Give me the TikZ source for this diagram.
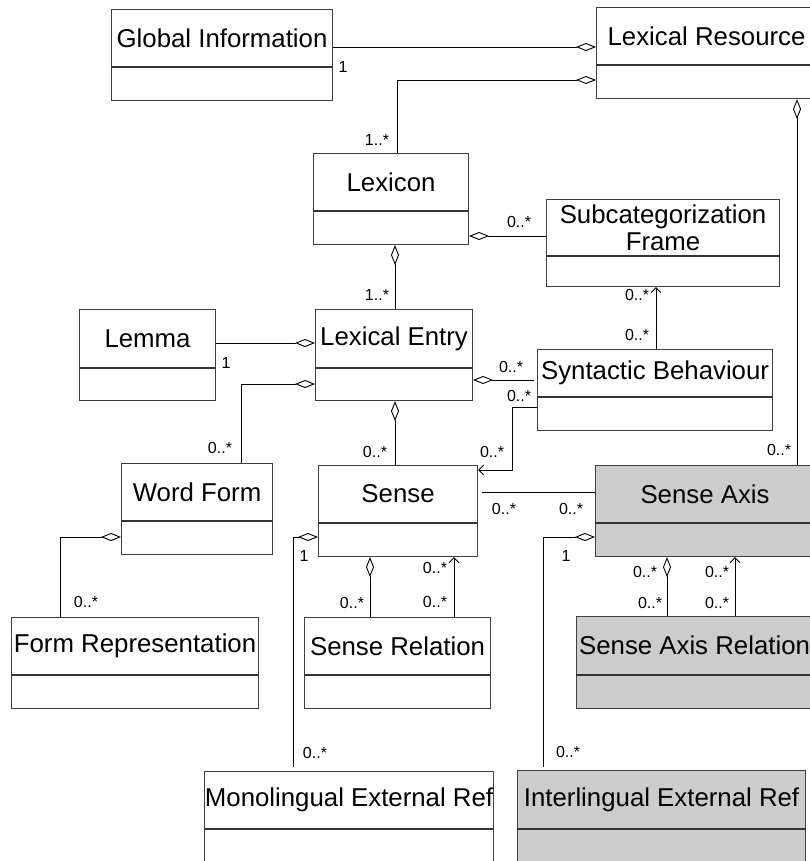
\documentclass[tikz,border=0pt]{standalone}
\usepackage{fontspec}
\setmainfont{Liberation Sans}
\usetikzlibrary{arrows.meta,calc}
\definecolor{boxgray}{HTML}{CCCCCC}
\tikzset{
  classbox/.style={draw=black!75, line width=1.1pt, inner sep=0pt, rectangle},
  classline/.style={draw=black!80, line width=1.1pt},
  classtitle/.style={font=\fontsize{25.8}{27}\selectfont, align=center, inner sep=0pt},
  mult/.style={font=\fontsize{16}{16}\selectfont, inner sep=0pt},
  assoc/.style={draw=black, line width=0.9pt},
  agg/.style={assoc, {Diamond[open, length=20pt, width=8pt, line width=0.9pt]}-},
  aggend/.style={assoc, -{Diamond[open, length=20pt, width=8pt, line width=0.9pt]}},
  nav/.style={assoc, -{Straight Barb[length=5pt, width=10pt, line width=0.9pt]}}
}
\newcommand{\umlclass}[8]{%
  \pgfmathsetmacro{\clsw}{#4-#2}%
  \pgfmathsetmacro{\clsh}{#6-#3}%
  \node[classbox, fill=#7, minimum width=\clsw pt, minimum height=\clsh pt, anchor=north west] (#1) at (#2,#3) {};
  \draw[classline] (#1.west |- 0,#5) -- (#1.east |- 0,#5);
  \node[classtitle] (#1-title) at ($(#1.north)!0.5!(#1.north |- 0,#5)$) {#8};
}
\begin{document}
\begin{tikzpicture}[x=1pt, y=-1pt]
\useasboundingbox (0,0) rectangle (810,861);
\clip (0,0) rectangle (810,861);
\fill[white] (0,0) rectangle (810,861);

% classes
\umlclass{gi}{111}{9}{332}{67}{100}{white}{Global Information}
\umlclass{lr}{596}{7}{816}{65}{98}{white}{Lexical Resource}
\umlclass{lex}{313}{153}{468}{211}{244}{white}{Lexicon}
\umlclass{sf}{546}{199}{779}{256}{286}{white}{Subcategorization\\Frame}
\umlclass{lemma}{79}{309}{215}{368}{400}{white}{Lemma}
\umlclass{le}{315}{309}{472}{368}{400}{white}{Lexical Entry}
\umlclass{sb}{537}{349}{772}{397}{430}{white}{Syntactic Behaviour}
\umlclass{wf}{121}{463}{272}{521}{554}{white}{Word Form}
\umlclass{sense}{318}{465}{477}{523}{556}{white}{Sense}
\umlclass{sa}{595}{465}{814}{523}{556}{boxgray}{Sense Axis}
\umlclass{fr}{11}{617}{258}{675}{708}{white}{Form Representation}
\umlclass{sr}{304}{617}{490}{675}{708}{white}{Sense Relation}
\umlclass{sar}{576}{616}{812}{675}{708}{boxgray}{Sense Axis Relation}
\umlclass{mer}{204}{771}{493}{829}{875}{white}{Monolingual External Ref}
\umlclass{ier}{517}{770}{805}{829}{875}{boxgray}{Interlingual External Ref}

% connectors
\draw[aggend] (gi.east |- 0,47) -- (lr.west |- 0,47);
\draw[aggend] (lex.north -| 397,0) |- (lr.west |- 0,80);
\draw[agg] (lr.south -| 797,0) -- (sa.north -| 797,0);
\draw[agg] (lex.east |- 0,236) -- (sf.west |- 0,236);
\draw[agg] (lex.south -| 395,0) -- (le.north -| 395,0);
\draw[aggend] (lemma.east |- 0,343) -- (le.west |- 0,343);
\draw[agg] (le.west |- 0,384) -| (wf.north -| 241,0);
\draw[agg] (le.south -| 395,0) -- (sense.north -| 395,0);
\draw[agg, shorten >=3pt] (le.east |- 0,380) -- (sb.west |- 0,380);
\draw[nav] (sb.west |- 0,407) -- ++(-25,0) |- (sense.east |- 0,470);
\draw[nav] (sb.north -| 656,0) -- (sf.south -| 656,0);
\draw[assoc, shorten <=4pt] (sense.east |- 0,492) -- (sa.west |- 0,492);
\draw[agg, shorten >=3pt] (sa.west |- 0,537) -| (ier.north -| 543,0);
\draw[agg, shorten >=4pt] (sense.west |- 0,537) -| (mer.north -| 293,0);
\draw[agg] (sense.south -| 370,0) -- (sr.north -| 370,0);
\draw[nav] (sr.north -| 454,0) -- (sense.south -| 454,0);
\draw[agg] (sa.south -| 667,0) -- (sar.north -| 667,0);
\draw[nav] (sar.north -| 735,0) -- (sa.south -| 735,0);
\draw[agg] (wf.west |- 0,537) -| (fr.north -| 60,0);

% multiplicities
\node[mult] (m1) at (343,67) {1};
\node[mult] (m2) at (377,140) {1..*};
\node[mult] (m3) at (377,295) {1..*};
\node[mult] (m4) at (519,222) {0..*};
\node[mult] (m5) at (779,450) {0..*};
\node[mult] (m6) at (226,363) {1};
\node[mult] (m7) at (220,448) {0..*};
\node[mult] (m8) at (375,452) {0..*};
\node[mult] (m9) at (511,367) {0..*};
\node[mult] (m10) at (519,396) {0..*};
\node[mult] (m11) at (492,452) {0..*};
\node[mult] (m12) at (637,295) {0..*};
\node[mult] (m13) at (637,335) {0..*};
\node[mult] (m14) at (504,509) {0..*};
\node[mult] (m15) at (571,509) {0..*};
\node[mult] (m16) at (566,556) {1};
\node[mult] (m17) at (568,752) {0..*};
\node[mult] (m18) at (304,556) {1};
\node[mult] (m19) at (315,753) {0..*};
\node[mult] (m20) at (352,603) {0..*};
\node[mult] (m21) at (435,568) {0..*};
\node[mult] (m22) at (435,602) {0..*};
\node[mult] (m23) at (645,572) {0..*};
\node[mult] (m24) at (650,603) {0..*};
\node[mult] (m25) at (717,572) {0..*};
\node[mult] (m26) at (717,603) {0..*};
\node[mult] (m27) at (86,602) {0..*};
\end{tikzpicture}
\end{document}
